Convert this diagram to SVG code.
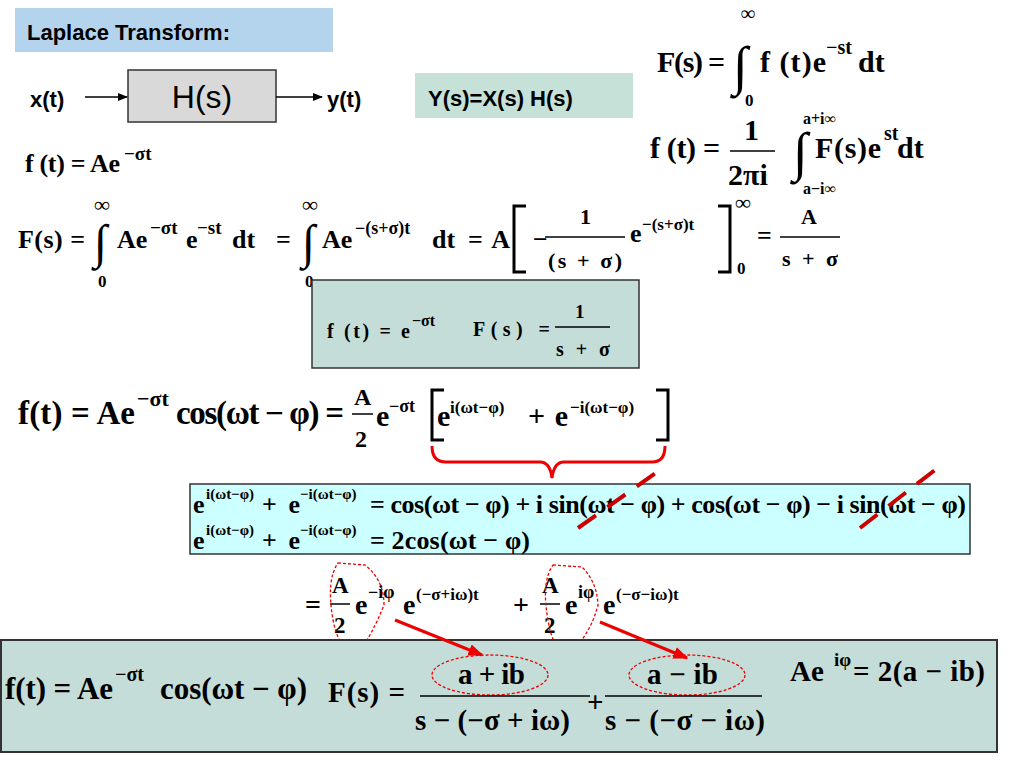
<svg xmlns="http://www.w3.org/2000/svg" width="1024" height="768" viewBox="0 0 1024 768">
<defs>
<style>
.m{font-family:"Liberation Serif",serif;font-weight:bold;fill:#000}
.s{font-family:"Liberation Sans",sans-serif;font-weight:bold;fill:#000}
.ln{stroke:#000;stroke-width:1.5}
.red{stroke:#e00;fill:none}
</style>
<marker id="ab" viewBox="0 0 10 10" refX="9" refY="5" markerWidth="7" markerHeight="7" orient="auto"><path d="M0,1 L10,5 L0,9 z" fill="#000"/></marker>
<marker id="ar" viewBox="0 0 10 10" refX="9" refY="5" markerWidth="5" markerHeight="5" orient="auto"><path d="M0,1 L10,5 L0,9 z" fill="#e00"/></marker>
</defs>
<rect width="1024" height="768" fill="#fff"/>
<g id="title"><rect x="15" y="8" width="318" height="44" fill="#b4d4ee"/><text class="s" x="27" y="40" font-size="22">Laplace Transform:</text></g>
<g id="hs"><rect x="128" y="70" width="148" height="52" fill="#d9d9d9" stroke="#333" stroke-width="1.5"/><text x="202" y="108" font-size="32" text-anchor="middle" font-family="Liberation Sans, sans-serif">H(s)</text></g>
<g id="xt"><text class="s" x="30" y="107" font-size="22">x(t)</text></g>
<g id="yt"><text class="s" x="327" y="107" font-size="22">y(t)</text></g>
<g id="ysxs"><rect x="415" y="73" width="218" height="45" fill="#c6e2d8"/><text class="s" x="428" y="106" font-size="22">Y(s)=X(s) H(s)</text></g>
<g id="fs-def" class="m">
<text x="657" y="72" font-size="30" textLength="68" lengthAdjust="spacing">F(s) =</text>
<text x="733" y="84" font-size="54" font-weight="normal">∫</text>
<text x="741" y="20" font-size="20">∞</text><text x="745" y="106" font-size="17">0</text>
<text x="760" y="72" font-size="30" textLength="66" lengthAdjust="spacing">f (t)e</text><text x="826" y="54" font-size="20">−st</text><text x="858" y="72" font-size="30">dt</text>
</g>
<g id="ft-inv" class="m">
<text x="650" y="158" font-size="30" textLength="70" lengthAdjust="spacing">f (t) =</text>
<text x="744" y="140" font-size="30">1</text><line x1="730" y1="151" x2="775" y2="151" class="ln"/><text x="728" y="185" font-size="30">2πi</text>
<text x="793" y="170" font-size="54" font-weight="normal">∫</text>
<text x="803" y="124" font-size="16">a+i∞</text><text x="803" y="194" font-size="16">a−i∞</text>
<text x="815" y="158" font-size="30" textLength="66" lengthAdjust="spacing">F(s)e</text><text x="884" y="140" font-size="20">st</text><text x="897" y="158" font-size="30">dt</text>
</g>
<g id="ft1" class="m"><text x="25" y="172" font-size="26" textLength="95" lengthAdjust="spacing">f (t) = Ae</text><text x="124" y="160" font-size="19">−σt</text></g>
<g id="fs1" class="m">
<text x="18" y="248" font-size="26" textLength="67" lengthAdjust="spacing">F(s) =</text>
<text x="94" y="258" font-size="48" font-weight="normal">∫</text>
<text x="94" y="212" font-size="22">∞</text><text x="98" y="287" font-size="17">0</text>
<text x="117" y="248" font-size="26">Ae</text><text x="150" y="234" font-size="19">−σt</text>
<text x="186" y="248" font-size="26">e</text><text x="197" y="234" font-size="19">−st</text><text x="232" y="248" font-size="26">dt</text>
<text x="276" y="248" font-size="26">=</text>
<text x="302" y="258" font-size="48" font-weight="normal">∫</text>
<text x="302" y="212" font-size="22">∞</text><text x="305" y="287" font-size="17">0</text>
<text x="322" y="248" font-size="26">Ae</text><text x="355" y="234" font-size="18">−(s+σ)t</text><text x="432" y="248" font-size="26">dt</text>
<text x="468" y="248" font-size="26" textLength="42" lengthAdjust="spacing">= A</text>
<path d="M526,206 L514,206 L514,272 L526,272" fill="none" stroke="#000" stroke-width="3"/>
<text x="533" y="248" font-size="26">−</text>
<text x="580" y="224" font-size="22">1</text><line x1="545" y1="237" x2="625" y2="237" class="ln"/><text x="548" y="268" font-size="22" textLength="74" lengthAdjust="spacing">(s + σ)</text>
<text x="630" y="242" font-size="26">e</text><text x="642" y="230" font-size="17">−(s+σ)t</text>
<path d="M718,206 L730,206 L730,272 L718,272" fill="none" stroke="#000" stroke-width="3"/>
<text x="735" y="210" font-size="22">∞</text><text x="737" y="274" font-size="17">0</text>
<text x="757" y="244" font-size="26">=</text>
<text x="801" y="224" font-size="22">A</text><line x1="780" y1="237" x2="840" y2="237" class="ln"/><text x="782" y="266" font-size="22" textLength="56" lengthAdjust="spacing">s + σ</text>
</g>
<g id="box1" class="m">
<rect x="312" y="280" width="327" height="88" fill="#c5ddd8" stroke="#333" stroke-width="1.5"/>
<text x="327" y="338" font-size="20" textLength="83" lengthAdjust="spacing">f (t) = e</text><text x="412" y="326" font-size="16">−σt</text>
<text x="473" y="336" font-size="20" textLength="77" lengthAdjust="spacing">F(s) =</text>
<text x="575" y="318" font-size="19">1</text><line x1="555" y1="327" x2="610" y2="327" class="ln"/><text x="556" y="356" font-size="20" textLength="54" lengthAdjust="spacing">s + σ</text>
</g>
<g id="ft2" class="m">
<text x="18" y="424" font-size="33" textLength="117" lengthAdjust="spacing">f(t) = Ae</text><text x="137" y="406" font-size="22">−σt</text>
<text x="176" y="424" font-size="33" textLength="168" lengthAdjust="spacing">cos(ωt − φ) =</text>
<text x="354" y="405" font-size="24">A</text><line x1="352" y1="414" x2="373" y2="414" class="ln"/><text x="355" y="447" font-size="24">2</text>
<text x="376" y="426" font-size="30">e</text><text x="389" y="412" font-size="18">−σt</text>
<path d="M444,390 L432,390 L432,440 L444,440" fill="none" stroke="#000" stroke-width="3"/>
<text x="437" y="426" font-size="30">e</text><text x="450" y="413" font-size="17">i(ωt−φ)</text>
<text x="528" y="426" font-size="30" textLength="40" lengthAdjust="spacing">+ e</text><text x="570" y="413" font-size="17">−i(ωt−φ)</text>
<path d="M656,390 L668,390 L668,440 L656,440" fill="none" stroke="#000" stroke-width="3"/>
</g>
<g id="brace"><path d="M432,446 Q432,462 446,462 L540,462 Q550,462 552,478 Q554,462 564,462 L652,462 Q665,462 665,446" class="red" stroke-width="3"/></g>
<g id="box2" class="m">
<rect x="190" y="484" width="780" height="70" fill="#ccffff" stroke="#333" stroke-width="1.5"/>
<text x="193" y="513" font-size="26">e</text><text x="206" y="499" font-size="15">i(ωt−φ)</text>
<text x="262" y="513" font-size="26" textLength="38" lengthAdjust="spacing">+ e</text><text x="300" y="499" font-size="15">−i(ωt−φ)</text>
<text x="370" y="513" font-size="26" textLength="596" lengthAdjust="spacing">= cos(ωt − φ) + i sin(ωt − φ) + cos(ωt − φ) − i sin(ωt − φ)</text>
<text x="193" y="549" font-size="26">e</text><text x="206" y="535" font-size="15">i(ωt−φ)</text>
<text x="262" y="549" font-size="26" textLength="38" lengthAdjust="spacing">+ e</text><text x="300" y="535" font-size="15">−i(ωt−φ)</text>
<text x="370" y="549" font-size="26" textLength="160" lengthAdjust="spacing">= 2cos(ωt − φ)</text>
</g>
<g id="strikes">
<line x1="578" y1="528" x2="660" y2="470" stroke="#c00" stroke-width="4" stroke-dasharray="22,14"/>
<line x1="860" y1="528" x2="935" y2="470" stroke="#c00" stroke-width="4" stroke-dasharray="22,14"/>
</g>
<g id="expand" class="m">
<text x="305" y="614" font-size="28">=</text>
<text x="332" y="593" font-size="23">A</text><line x1="330" y1="604" x2="350" y2="604" class="ln"/><text x="334" y="633" font-size="23">2</text>
<text x="355" y="614" font-size="28">e</text><text x="368" y="598" font-size="18">−iφ</text>
<text x="403" y="614" font-size="28">e</text><text x="416" y="600" font-size="17">(−σ+iω)t</text>
<text x="513" y="614" font-size="28">+</text>
<text x="542" y="593" font-size="23">A</text><line x1="540" y1="604" x2="560" y2="604" class="ln"/><text x="544" y="633" font-size="23">2</text>
<text x="565" y="614" font-size="28">e</text><text x="578" y="598" font-size="18">iφ</text>
<text x="603" y="614" font-size="28">e</text><text x="616" y="600" font-size="17">(−σ−iω)t</text>
</g>
<g id="loops">
<path d="M338,563 L365,565 Q384,580 384,605 Q372,635 360,650 L350,653 Q338,645 333,620 Q326,580 338,563 Z" class="red" stroke-width="1.3" stroke-dasharray="3,2"/>
<path d="M553,565 L582,567 Q597,582 598,605 Q590,635 572,650 L563,653 Q552,645 548,620 Q541,582 553,565 Z" class="red" stroke-width="1.3" stroke-dasharray="3,2"/>
</g>
<g id="box3" class="m">
<rect x="1" y="640" width="996" height="112" fill="#c5ddd8" stroke="#333" stroke-width="2"/>
<text x="5" y="699" font-size="31" textLength="108" lengthAdjust="spacing">f(t) = Ae</text><text x="115" y="681" font-size="20">−σt</text>
<text x="160" y="699" font-size="31" textLength="147" lengthAdjust="spacing">cos(ωt − φ)</text>
<text x="328" y="702" font-size="29" textLength="77" lengthAdjust="spacing">F(s) =</text>
<text x="458" y="684" font-size="29" textLength="67" lengthAdjust="spacing">a + ib</text>
<ellipse cx="490" cy="675" rx="58" ry="20" class="red" stroke-width="1.3" stroke-dasharray="3,2"/>
<line x1="420" y1="696" x2="590" y2="696" class="ln"/>
<text x="415" y="730" font-size="29" textLength="155" lengthAdjust="spacing">s − (−σ + iω)</text>
<text x="587" y="712" font-size="29">+</text>
<text x="647" y="684" font-size="29" textLength="71" lengthAdjust="spacing">a − ib</text>
<ellipse cx="687" cy="675" rx="58" ry="20" class="red" stroke-width="1.3" stroke-dasharray="3,2"/>
<line x1="605" y1="696" x2="762" y2="696" class="ln"/>
<text x="605" y="730" font-size="29" textLength="160" lengthAdjust="spacing">s − (−σ − iω)</text>
<text x="790" y="681" font-size="29">Ae</text><text x="834" y="666" font-size="19">iφ</text>
<text x="853" y="681" font-size="29" textLength="132" lengthAdjust="spacing">= 2(a − ib)</text>
</g>
<g id="connectors">
<line x1="85" y1="97" x2="127" y2="97" stroke="#000" stroke-width="1.5" marker-end="url(#ab)"/>
<line x1="276" y1="97" x2="322" y2="97" stroke="#000" stroke-width="1.5" marker-end="url(#ab)"/>
<line x1="395" y1="620" x2="482" y2="655" class="red" stroke-width="3" marker-end="url(#ar)"/>
<line x1="600" y1="622" x2="687" y2="658" class="red" stroke-width="3" marker-end="url(#ar)"/>
</g>
</svg>
